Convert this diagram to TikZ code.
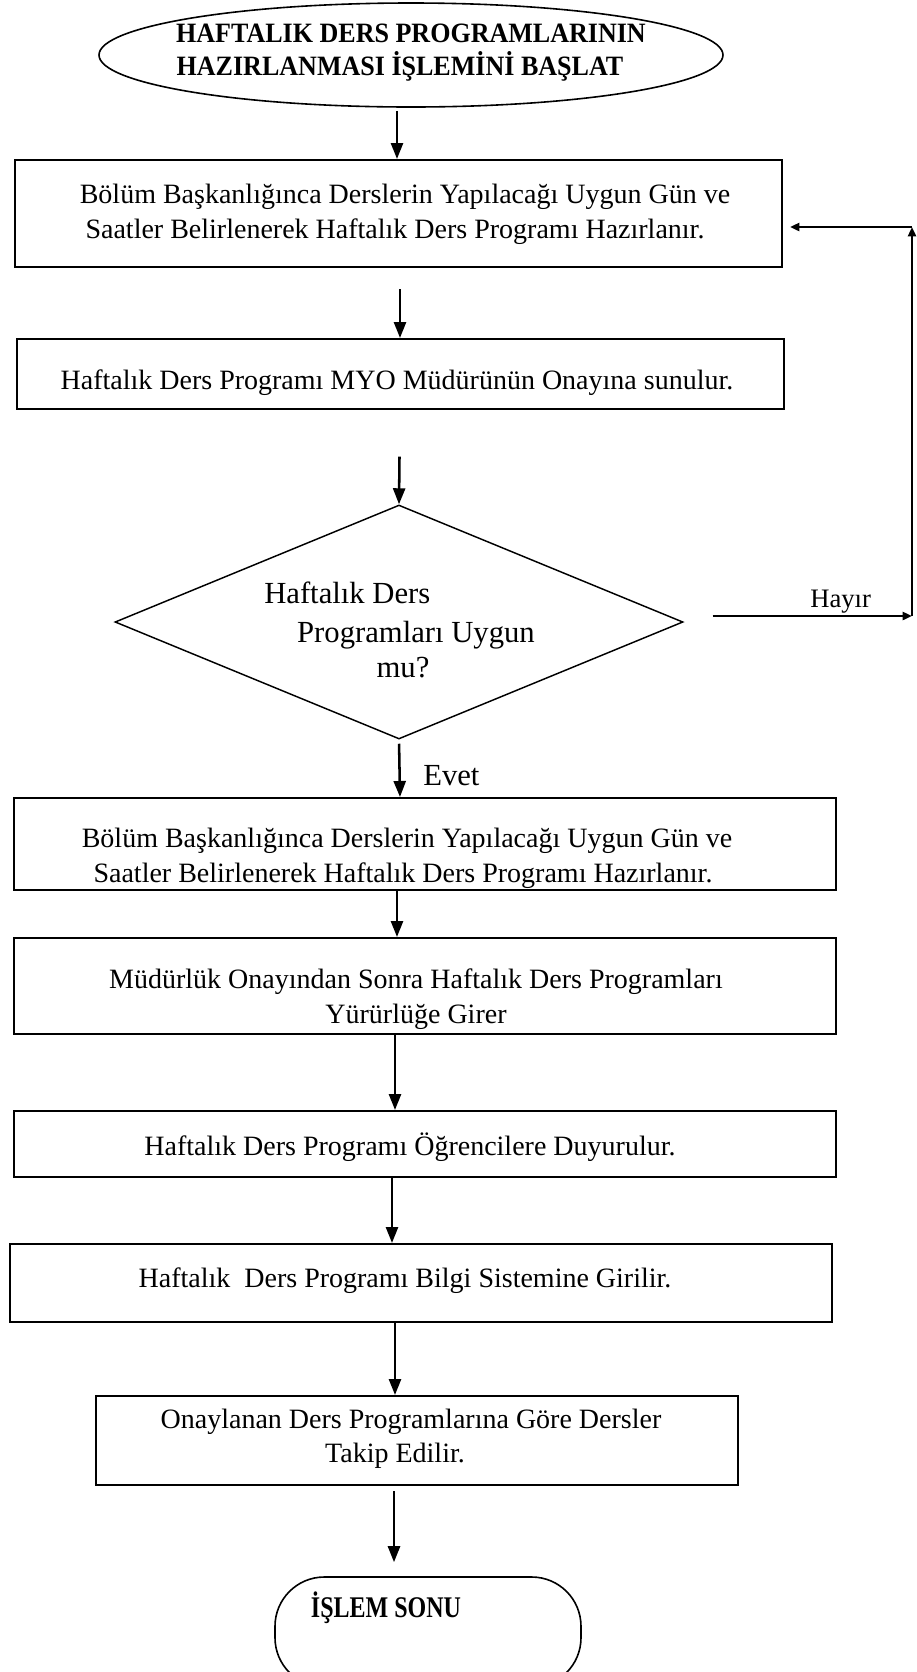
\documentclass[tikz,border=0pt]{standalone}
\usepackage{fontspec}
\setmainfont{Liberation Serif}
\newfontfamily\titlefont[FakeStretch=0.93]{Liberation Serif}
\newfontfamily\endfont[FakeStretch=0.8]{Liberation Serif}
\usetikzlibrary{arrows.meta,shapes.geometric}

\tikzset{
  stepbox/.style={draw, line width=1.5pt, rectangle, inner sep=0pt},
  txt/.style={inner sep=0pt, anchor=base, font=\fontsize{21}{25}\selectfont},
  dtxt/.style={inner sep=0pt, anchor=base, font=\fontsize{23}{27}\selectfont},
  ttl/.style={inner sep=0pt, anchor=base, font=\titlefont\bfseries\fontsize{21}{25}\selectfont},
  arr/.style={line width=1.9pt, -{Triangle[length=12pt,width=9pt]}},
  looparr/.style={line width=1.9pt, -{Triangle[length=7pt,width=6pt]}},
}

\begin{document}
\begin{tikzpicture}[x=0.75pt,y=-0.75pt]
\clip (0,0) rectangle (917,1672);

% start terminal
\node[ellipse, draw, line width=1.2pt, inner sep=0pt,
      minimum width=468pt, minimum height=78pt] (start) at (411,55) {};
\node[ttl] (t1) at (411,42) {HAFTALIK DERS PROGRAMLARININ};
\node[ttl] (t2) at (400,75) {HAZIRLANMASI İŞLEMİNİ BAŞLAT};

% process boxes
\node[stepbox, minimum width=575.25pt, minimum height=80.25pt] (b1) at (398.5,213.5) {};
\node[txt] (b1a) at (405,203) {Bölüm Başkanlığınca Derslerin Yapılacağı Uygun Gün ve};
\node[txt] (b1b) at (395,238) {Saatler Belirlenerek Haftalık Ders Programı Hazırlanır.};

\node[stepbox, minimum width=575.25pt, minimum height=52.5pt] (b2) at (400.5,374) {};
\node[txt] (b2a) at (397,389) {Haftalık Ders Programı MYO Müdürünün Onayına sunulur.};

% decision
\node[diamond, draw, line width=1.1pt, inner sep=0pt,
      minimum width=426pt, minimum height=175.5pt] (dec) at (399,622) {};
\node[dtxt, anchor=base west] (q1) at (264,603) {Haftalık Ders};
\node[dtxt] (q2) at (416,642) {Programları Uygun};
\node[dtxt] (q3) at (403,677) {mu?};

\node[stepbox, minimum width=616.5pt, minimum height=69pt] (b3) at (425,844) {};
\node[txt] (b3a) at (407,847) {Bölüm Başkanlığınca Derslerin Yapılacağı Uygun Gün ve};
\node[txt] (b3b) at (403,882) {Saatler Belirlenerek Haftalık Ders Programı Hazırlanır.};

\node[stepbox, minimum width=616.5pt, minimum height=72pt] (b4) at (425,986) {};
\node[txt] (b4a) at (416,988) {Müdürlük Onayından Sonra Haftalık Ders Programları};
\node[txt] (b4b) at (416,1023) {Yürürlüğe Girer};

\node[stepbox, minimum width=616.5pt, minimum height=49.5pt] (b5) at (425,1144) {};
\node[txt] (b5a) at (410,1155) {Haftalık Ders Programı Öğrencilere Duyurulur.};

\node[stepbox, minimum width=616.5pt, minimum height=58.5pt] (b6) at (421,1283) {};
\node[txt] (b6a) at (405,1287) {Haftalık\ \ Ders Programı Bilgi Sistemine Girilir.};

\node[stepbox, minimum width=481.5pt, minimum height=66.75pt] (b7) at (417,1440.5) {};
\node[txt] (b7a) at (411,1428) {Onaylanan Ders Programlarına Göre Dersler};
\node[txt] (b7b) at (395,1462) {Takip Edilir.};

% end terminal
\node[draw, rectangle, rounded corners=37pt, line width=1.2pt, inner sep=0pt,
      minimum width=229.5pt, minimum height=82.5pt] (stop) at (428,1632) {};
\node[inner sep=0pt, anchor=base, font=\endfont\bfseries\fontsize{22.5}{26}\selectfont]
      (stopt) at (386,1617) {İŞLEM SONU};

% arrow columns
\coordinate (c397) at (397,0);
\coordinate (c400) at (400,0);
\coordinate (c395) at (395,0);
\coordinate (c392) at (392,0);
\coordinate (c394) at (394,0);

\draw[arr, shorten <=2.25pt] (start.south -| c397) -- (b1.north -| c397);
\draw[arr, shorten <=15.75pt] (b1.south -| c400) -- (b2.north -| c400);
\draw[arr, shorten <=35pt] (b2.south -| c400) -- (dec.north);
\draw[arr, shorten <=3pt] (dec.south) -- (b3.north -| c400);
\draw[arr] (b3.south -| c397) -- (b4.north -| c397);
\draw[arr] (b4.south -| c395) -- (b5.north -| c395);
\draw[arr] (b5.south -| c392) -- (b6.north -| c392);
\draw[arr] (b6.south -| c395) -- (b7.north -| c395);
\draw[arr, shorten <=3.75pt, shorten >=10.5pt] (b7.south -| c394) -- (stop.north -| c394);

\node[inner sep=0pt, anchor=base west, font=\fontsize{23}{27}\selectfont] (evet) at (423,785) {Evet};

% "no" branch back to the first step
\coordinate (hr) at (912,616);
\coordinate (ht) at (912,227);
\draw[looparr, shorten <=21.75pt] (hr -| dec.east) -- (hr);
\draw[looparr] (hr) -- (ht);
\draw[looparr, shorten >=5.25pt] (ht) -- (ht -| b1.east);
\node[inner sep=0pt, anchor=base west, font=\fontsize{20}{24}\selectfont] (hayir) at (810,607) {Hayır};
\end{tikzpicture}
\end{document}
